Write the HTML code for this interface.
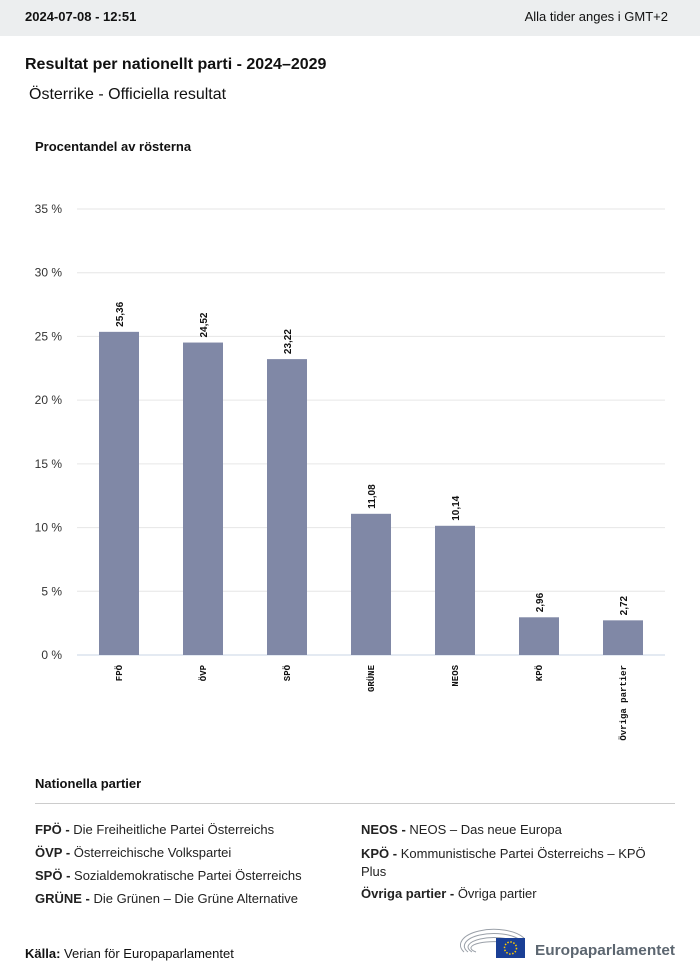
<!DOCTYPE html>
<html><head><meta charset="utf-8"><style>
body{margin:0;width:700px;height:980px;background:#fff;font-family:"Liberation Sans",sans-serif;color:#111;position:relative;overflow:hidden}
.abs{position:absolute}
.hdr{left:0;top:0;width:700px;height:36px;background:#eceeef}
.leg{font-size:13px;color:#222}
.leg b{font-weight:bold}
</style></head><body>
<div class="abs hdr">
<div class="abs" style="left:25px;top:9px;font-size:13px;font-weight:bold">2024-07-08 - 12:51</div>
<div class="abs" style="right:32px;top:9px;font-size:13px">Alla tider anges i GMT+2</div>
</div>
<div class="abs" style="left:25px;top:56px;font-size:16px;font-weight:bold">Resultat per nationellt parti - 2024–2029</div>
<div class="abs" style="left:29px;top:86px;font-size:16px">Österrike - Officiella resultat</div>
<div class="abs" style="left:35px;top:139px;font-size:13px;font-weight:bold">Procentandel av rösterna</div>
<svg class="abs" style="left:0;top:0" width="700" height="780" id="chart"></svg>
<div class="abs" style="left:35px;top:776px;font-size:13px;font-weight:bold">Nationella partier</div>
<div class="abs" style="left:35px;top:803px;width:640px;height:1px;background:#ccc"></div>
<div class="abs leg" style="left:35px;top:822px"><b>FPÖ -</b> Die Freiheitliche Partei Österreichs</div>
<div class="abs leg" style="left:35px;top:845px"><b>ÖVP -</b> Österreichische Volkspartei</div>
<div class="abs leg" style="left:35px;top:868px"><b>SPÖ -</b> Sozialdemokratische Partei Österreichs</div>
<div class="abs leg" style="left:35px;top:891px"><b>GRÜNE -</b> Die Grünen – Die Grüne Alternative</div>
<div class="abs leg" style="left:361px;top:822px"><b>NEOS -</b> NEOS – Das neue Europa</div>
<div class="abs leg" style="left:361px;top:845px;width:300px;line-height:18px"><b>KPÖ -</b> Kommunistische Partei Österreichs – KPÖ Plus</div>
<div class="abs leg" style="left:361px;top:886px"><b>Övriga partier -</b> Övriga partier</div>
<div class="abs" style="left:25px;top:946px;font-size:13px"><b>Källa:</b> Verian för Europaparlamentet</div>
<svg class="abs" style="left:460px;top:922px" width="220" height="40">
<g fill="none" stroke="#9aa0a8" stroke-width="1">
<path d="M4 30 A30 14 0 0 1 64 16"/><path d="M8 30 A26 11 0 0 1 60 18"/><path d="M12 30 A22 8 0 0 1 56 20"/><path d="M16 30 A18 5 0 0 1 52 22"/>
</g>
<rect x="36" y="16" width="29" height="20" fill="#1a3f95"/>
<circle cx="50.5" cy="26" r="6" fill="none" stroke="#ffcc00" stroke-width="1.5" stroke-dasharray="1.5 1.6"/>
<text x="75" y="33" font-size="15" font-weight="bold" fill="#5c6670" font-family="Liberation Sans, sans-serif" textLength="140" lengthAdjust="spacingAndGlyphs">Europaparlamentet</text>
</svg>
<script>
const categories=["FPÖ","ÖVP","SPÖ","GRÜNE","NEOS","KPÖ","Övriga partier"];
const values=[25.36,24.52,23.22,11.08,10.14,2.96,2.72];
const valueLabels=["25,36","24,52","23,22","11,08","10,14","2,96","2,72"];
const yTicks=[0,5,10,15,20,25,30,35];
const ns="http://www.w3.org/2000/svg",svg=document.getElementById("chart");
const y0=655,yTop=209,yMax=35,x0=77,step=84,bw=40;
const y=v=>y0-(v/yMax)*(y0-yTop);
const xc=i=>x0+42+i*step;
function mk(t,a){const e=document.createElementNS(ns,t);for(const k in a)e.setAttribute(k,a[k]);svg.appendChild(e);return e;}
yTicks.forEach(t=>{
 const l=mk("line",{x1:x0,x2:665,y1:y(t),y2:y(t),stroke:t?"#e6e6e6":"#c8d4e6"});
 
 
 const tx=mk("text",{x:62,y:y(t)+4,"text-anchor":"end","font-size":12,fill:"#333","font-family":"Liberation Sans, sans-serif"});
 tx.textContent=t+" %";
 
 
});
categories.forEach((c,i)=>{
 const r=mk("rect",{x:xc(i)-bw/2,y:y(values[i]),width:bw,height:y0-y(values[i]),fill:"#8088a6"});
 
 
 const vx=xc(i)+4,vy=y(values[i])-5;
 const v=mk("text",{x:vx,y:vy,transform:`rotate(-90 ${vx} ${vy})`,"font-size":10,"font-weight":"bold",fill:"#111","font-family":"Liberation Sans, sans-serif"});
 v.textContent=valueLabels[i];
 
 
 const lx=xc(i)+3,ly=y0+10;
 const t=mk("text",{x:lx,y:ly,transform:`rotate(-90 ${lx} ${ly})`,"text-anchor":"end","font-size":9,"font-weight":"bold",fill:"#111","font-family":"Liberation Mono, monospace"});
 t.textContent=c;
 
 
});
</script>
</body></html>
